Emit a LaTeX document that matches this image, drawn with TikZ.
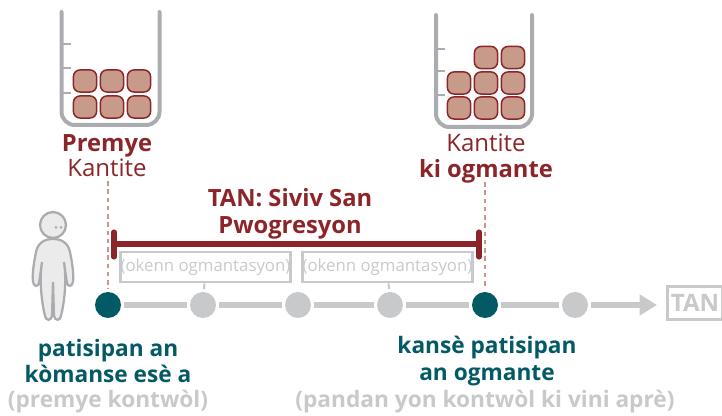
\documentclass[tikz,border=0pt]{standalone}
\usepackage{fontspec}
\setmainfont{Open Sans}
\usetikzlibrary{positioning,arrows.meta}
\definecolor{wine}{HTML}{8C2529}
\definecolor{teal}{HTML}{035A65}
\definecolor{lgray}{HTML}{C8C9CB}
\definecolor{bgray}{HTML}{AAACAF}
\definecolor{rose}{HTML}{C79A89}
\definecolor{dash}{HTML}{C9968A}
\def\px{0.75pt}
\tikzset{
	block/.style={draw=wine,fill=rose,line width=1.1pt,rounded corners=5pt,minimum width=17.4pt,minimum height=16.6pt,inner sep=0pt},
	beaker/.style={draw=bgray,line width=3pt,line cap=round,rounded corners=10pt},
	tickmark/.style={draw=bgray,line width=2pt},
	point/.style={circle,fill=lgray,minimum size=19.5pt,inner sep=0pt,outer sep=2.2pt},
	active/.style={point,fill=teal},
	link/.style={draw=lgray,line width=4pt},
	guide/.style={draw=dash,line width=2.1pt,dash pattern=on 3.4pt off 2.8pt},
	period/.style={draw=lgray,line width=2.1pt,text=lgray,minimum width=128pt,minimum height=22.5pt,inner sep=0pt,font=\fontsize{12.6pt}{14pt}\selectfont},
	head/.style={text=wine,align=center,font=\fontsize{18pt}{19.6pt}\selectfont},
	headb/.style={text=wine,align=center,font=\fontsize{17.8pt}{20.2pt}\selectfont\bfseries},
	tealt/.style={text=teal,align=center,font=\fontsize{17pt}{19.8pt}\selectfont\bfseries},
	grayt/.style={text=lgray,align=center,font=\fontsize{17pt}{19.8pt}\selectfont\bfseries},
	person/.style={draw=bgray,fill=black!8,line width=1.7pt}
}
\begin{document}
\begin{tikzpicture}[x=\px,y=-\px,on grid,node distance=71.25pt]
\useasboundingbox (0,0) rectangle (722,416);
% beakers
\draw[beaker] (61.5,12) -- (61.5,125) -- (159.5,125) -- (159.5,12);
\draw[beaker] (436,15) -- (436,127) -- (532,127) -- (532,15);
\foreach \y in {44,68,93} \draw[tickmark] (61.5,\y) -- (71,\y);
\foreach \y in {49,71,95} \draw[tickmark] (436,\y) -- (445,\y);
\foreach \x in {85,112,139}
	\foreach \y in {81,107} \node[block] (a\x\y) at (\x,\y) {};
\foreach \x/\y in {459/108,486/108,513/108,459/83,486/83,513/83,486/57.5,513/57.5}
	\node[block] (c\x) at (\x,\y) {};
% labels
\node[headb]	(first)		at (107,146)	{Premye};
\node[head]		(qty)		at (107,168)	{Kantite};
\node[head]		(qty2)		at (486,143)	{Kantite};
\node[headb]	(more)		at (486,171)	{ki ogmante};
\node[headb]	(title)		at (290,214)	{TAN: Siviv San\\Pwogresyon};
% timeline
\node[active]	(p_0)	at (108,305)	{};
\node[point]	(p_1)	[right=of p_0]	{};
\node[point]	(p_2)	[right=of p_1]	{};
\node[point]	(p_3)	[right=69pt of p_2]	{};
\node[active]	(p_4)	[right=of p_3]	{};
\node[point]	(p_5)	[right=67.5pt of p_4]	{};
\node[draw=lgray,line width=2.2pt,text=lgray,font=\fontsize{18pt}{18pt}\selectfont\bfseries,minimum width=41pt,minimum height=25pt,inner sep=0pt] (tan) at (695,303) {TAN};
\coordinate (q_0) at (108,181);
\coordinate (q_4) at (485,182);
\coordinate (tip) at (657,305);
\draw[guide] (q_0) -- (p_0);
\draw[guide] (q_4) -- (p_4);
\foreach \a/\b in {p_0/p_1,p_1/p_2,p_2/p_3,p_3/p_4,p_4/p_5}
	\draw[link] (\a) -- (\b);
\draw[link,-{Triangle[length=13pt,width=15pt]}] (p_5) -- (tip);
% periods
\node[period]	(w_1)	at (205.5,267)	{(okenn ogmantasyon)};
\node[period]	(w_2)	at (387.5,267)	{(okenn ogmantasyon)};
\draw[lgray,line width=1.5pt] (w_1) -- (p_1);
\draw[lgray,line width=1.5pt] (w_2) -- (p_3);
% span
\coordinate (s_0) at (114,244);
\coordinate (s_1) at (479,244);
\draw[wine,line width=3.8pt] (s_0) -- (s_1);
\draw[wine,line width=3.8pt,line cap=round] (114,232) -- (114,257);
\draw[wine,line width=3.8pt,line cap=round] (479,232) -- (479,257);
% captions
\node[tealt]	(c_0)	at (108,361)	{patisipan an\\kòmanse esè a};
\node[tealt]	(c_4)	at (487,361)	{kansè patisipan\\an ogmante};
\node[grayt]	(g_0)	at (108,401.5)	{(premye kontwòl)};
\node[grayt]	(g_4)	at (485,401.5)	{(pandan yon kontwòl ki vini aprè)};
% person
\draw[person] (53,239) .. controls (62,239) and (68,243) .. (70,252) .. controls (72,262) and (74,274) .. (73,282) .. controls (72,287) and (68,287) .. (67,283) .. controls (66,277) and (65,270) .. (64,262) .. controls (67,282) and (64,304) .. (61,316) .. controls (60,321) and (55,321) .. (54,316) -- (53,282) -- (52,316) .. controls (51,321) and (46,321) .. (45,316) .. controls (42,304) and (39,282) .. (42,262) .. controls (41,270) and (40,277) .. (39,283) .. controls (38,287) and (34,287) .. (33,282) .. controls (32,274) and (34,262) .. (36,252) .. controls (38,243) and (44,239) .. cycle;
\node[circle,person,minimum size=19.5pt,inner sep=0pt] (face) at (53,225) {};
\fill[bgray] (56,227.5) circle (1.5) (61,227.5) circle (1.5);
\end{tikzpicture}
\end{document}
